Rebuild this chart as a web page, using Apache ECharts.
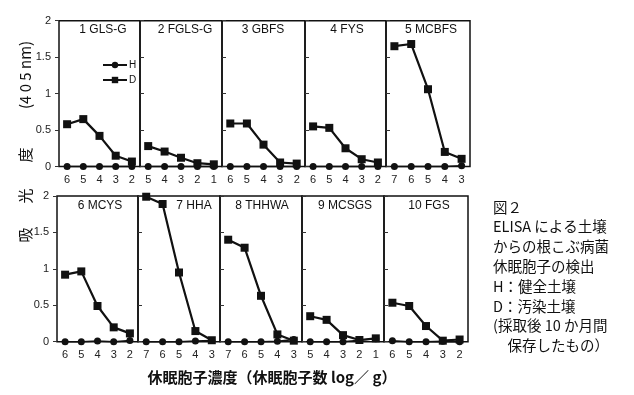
<!DOCTYPE html>
<html><head><meta charset="utf-8">
<script src="https://cdn.jsdelivr.net/npm/echarts@6/dist/echarts.min.js"></script>
<style>html,body{margin:0;padding:0;background:#fff}#c{width:634px;height:395px}</style>
</head><body><div id="c"></div>
<script>
// ---- data ----
const panelTitles = ['1 GLS-G','2 FGLS-G','3 GBFS','4 FYS','5 MCBFS','6 MCYS','7 HHA','8 THHWA','9 MCSGS','10 FGS'];
const xLabels = [
  ['6','5','4','3','2'], ['5','4','3','2','1'], ['6','5','4','3','2'], ['6','5','4','3','2'], ['7','6','5','4','3'],
  ['6','5','4','3','2'], ['7','6','5','4','3'], ['7','6','5','4','3'], ['5','4','3','2','1'], ['6','5','4','3','2']
];
const seriesH = [
  [0,0,0,0,0], [0,0,0,0,0], [0,0,0,0,0], [0,0,0,0,0], [0,0,0,0,0.01],
  [0,0,0.01,0,0.015], [0,0,0,0.01,0.015], [0,0,0,0.005,0.03], [0,0,0,0.02,0.04], [0.014,0,0,0.005,0]
];
const seriesD = [
  [0.58,0.65,0.42,0.148,0.068], [0.28,0.205,0.12,0.045,0.03], [0.59,0.59,0.30,0.055,0.04],
  [0.55,0.53,0.25,0.10,0.055], [1.65,1.68,1.06,0.20,0.105],
  [0.92,0.965,0.49,0.197,0.114], [1.99,1.89,0.95,0.146,0.02], [1.40,1.29,0.63,0.10,0.014],
  [0.35,0.30,0.09,0.023,0.046], [0.535,0.49,0.215,0.014,0.03]
];
const yTicks = [0, 0.5, 1, 1.5, 2];
const seriesNames = ['H','D'];
const yTitleParts = ['吸','光','度','(4 0 5 nm)'];
const xTitle = '休眠胞子濃度（休眠胞子数 log／ g）';
const noteLines = ['図２','ELISA による土壌','からの根こぶ病菌','休眠胞子の検出','H：健全土壌','D：汚染土壌','(採取後 10 か月間','　保存したもの）'];

// ---- layout ----
const rowTop = [20.7, 196], rowH = [145.8, 145.7];
const lefts = [59,140,222,305,386, 57,138,220,302,384];
const widths = [81,82,83,81,84, 81,82,82,82,84];
const titleX = [103,185,263,347,431, 100,194,262,345,429];
const titleY = [30, 206];

const chart = echarts.init(document.getElementById('c'));
const grid = [], xAxis = [], yAxis = [], series = [], graphic = [];
for (let i = 0; i < 10; i++) {
  const r = i < 5 ? 0 : 1;
  const firstCol = (i % 5) === 0;
  grid.push({left: lefts[i], top: rowTop[r], width: widths[i], height: rowH[r], show: true, borderColor: '#111', borderWidth: 1.5, containLabel: false});
  xAxis.push({type: 'category', gridIndex: i, data: xLabels[i], boundaryGap: true,
    axisLine: {show: false}, axisTick: {show: false},
    axisLabel: {color: '#222', fontSize: 11, fontFamily: 'Liberation Sans, Arial', margin: 8}});
  yAxis.push({type: 'value', gridIndex: i, min: 0, max: 2, interval: 0.5,
    splitLine: {show: false}, axisLine: {show: false},
    axisTick: {show: true, inside: !firstCol, length: 4, lineStyle: {color: '#333'}},
    axisLabel: {show: firstCol, color: '#222', fontSize: 11, fontFamily: 'Liberation Sans, Arial', margin: 8,
      formatter: v => yTicks.includes(v) ? String(v) : ''}});
  series.push({name: seriesNames[0], type: 'line', xAxisIndex: i, yAxisIndex: i, data: seriesH[i],
    symbol: 'circle', symbolSize: 7, clip: false, lineStyle: {color: '#111', width: 1.6},
    itemStyle: {color: '#111'}, z: 3});
  series.push({name: seriesNames[1], type: 'line', xAxisIndex: i, yAxisIndex: i, data: seriesD[i],
    symbol: 'rect', symbolSize: 8, clip: false, lineStyle: {color: '#111', width: 2.2},
    itemStyle: {color: '#111'}, z: 4});
  graphic.push({type: 'text', x: titleX[i], y: titleY[r], style: {text: panelTitles[i], fill: '#111',
    font: '12px "Liberation Sans", Arial', textAlign: 'center', textVerticalAlign: 'middle'}});
}
// y title (rotated)
const yPartY = [235, 196, 155, 75];
yTitleParts.forEach((t, k) => {
  graphic.push({type: 'text', x: 25, y: yPartY[k], rotation: Math.PI / 2,
    style: {text: t, fill: '#111', font: '15px "Noto Sans CJK JP"', textAlign: 'center', textVerticalAlign: 'middle'}});
});
graphic.push({type: 'text', x: 272, y: 377, style: {text: xTitle, fill: '#111', font: 'bold 15px "Noto Sans CJK JP"', textAlign: 'center', textVerticalAlign: 'middle'}});
noteLines.forEach((t, k) => {
  graphic.push({type: 'text', x: 493, y: 207 + k * 19.8, style: {text: t, fill: '#111', font: '14.5px "Noto Sans CJK JP"', textAlign: 'left', textVerticalAlign: 'middle'}});
});

chart.setOption({
  animation: false,
  backgroundColor: '#fff',
  grid, xAxis, yAxis, series, graphic,
  legend: {data: seriesNames, left: 97, top: 55, orient: 'vertical', itemWidth: 24, itemHeight: 8, itemGap: 5,
    textStyle: {color: '#111', fontSize: 10, fontFamily: 'Liberation Sans, Arial', padding: [0,0,0,-3]}}
});
</script></body></html>
